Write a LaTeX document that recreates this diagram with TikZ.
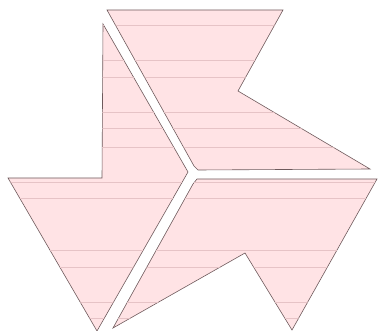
\documentclass[tikz,border=0pt]{standalone}
\begin{document}
\begin{tikzpicture}[x=1pt,y=-1pt,
  piece/.style={fill=pinkfill,draw=edgecol,line width=0.6pt,line join=miter},
  stripe/.style={draw=stripecol,line width=0.6pt}]
\definecolor{pinkfill}{HTML}{FFE3E5}
\definecolor{edgecol}{HTML}{6E5A5C}
\definecolor{stripecol}{HTML}{E6C3C6}
\useasboundingbox (0,0) rectangle (378,331);
\path[piece] (107,10) -- (283,10) -- (238,91) -- (370,169) -- (198,170) -- (194,166) -- cycle;
\path[piece] (103,24) -- (188,172) -- (97,331) -- (8,178) -- (102,178) -- cycle;
\path[piece] (197,179) -- (377,179) -- (292,330) -- (245,253) -- (113,328) -- (193,184) -- cycle;
\begin{scope}
\clip (107,10) -- (283,10) -- (238,91) -- (370,169) -- (198,170) -- (194,166) -- cycle
      (103,24) -- (188,172) -- (97,331) -- (8,178) -- (102,178) -- cycle
      (197,179) -- (377,179) -- (292,330) -- (245,253) -- (113,328) -- (193,184) -- cycle;
\foreach \yy in {25,60,77,112,128,147,182,198,250,267,302,318}
  \draw[stripe] (0,\yy) -- (378,\yy);
\end{scope}
\end{tikzpicture}
\end{document}
